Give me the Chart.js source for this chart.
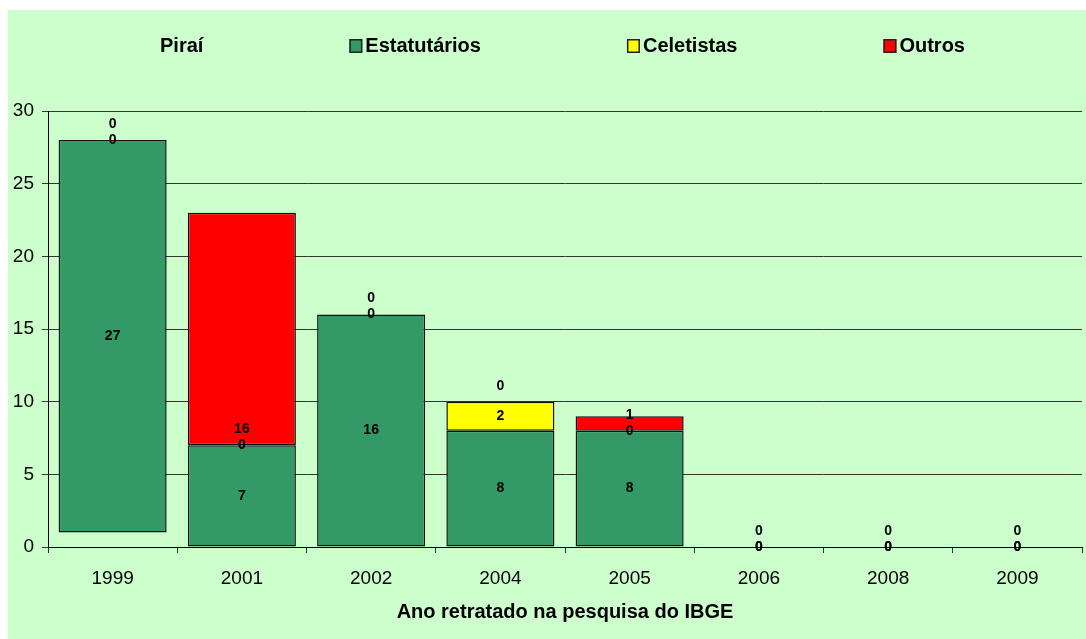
<!DOCTYPE html>
<html><head><meta charset="utf-8">
<script src="https://cdn.jsdelivr.net/npm/chart.js@4"></script>
<style>html,body{margin:0;padding:0;background:#fff;}canvas{display:block;}</style>
</head><body>
<canvas id="c" width="1086" height="639"></canvas>
<script>
const categories = ['1999','2001','2002','2004','2005','2006','2008','2009'];
const pirai = [1,0,0,0,0,0,0,0];
const estatutarios = [27,7,16,8,8,0,0,0];
const celetistas = [0,0,0,2,0,0,0,0];
const outros = [0,16,0,0,1,0,0,0];
const seriesNames = ['Piraí','Estatutários','Celetistas','Outros'];
const xTitle = 'Ano retratado na pesquisa do IBGE';

const FAMILY = '"Liberation Sans", Arial, Helvetica, sans-serif';

const bgPlugin = {
  id:'bg',
  beforeDraw(chart){
    const ctx = chart.ctx;
    ctx.save();
    ctx.fillStyle = '#ffffff';
    ctx.fillRect(0,0,chart.width,chart.height);
    ctx.fillStyle = '#CCFFCC';
    ctx.fillRect(8,10,chart.width-8,chart.height-10);
    ctx.restore();
  }
};

const valueLabels = {
  id:'valueLabels',
  afterDatasetsDraw(chart){
    const ctx = chart.ctx;
    ctx.save();
    ctx.font = 'bold 14px ' + FAMILY;
    ctx.fillStyle = '#000';
    ctx.textAlign = 'center';
    ctx.textBaseline = 'middle';
    chart.data.datasets.forEach((ds, di) => {
      if (!ds.showValues) return;
      const meta = chart.getDatasetMeta(di);
      meta.data.forEach((bar, i) => {
        const v = ds.data[i];
        const y = ds.labelMode === 'base' ? bar.base - 16 : (bar.y + bar.base) / 2;
        ctx.fillText(String(v), bar.x, y);
      });
    });
    ctx.restore();
  }
};

const legendPlugin = {
  id:'customLegend',
  afterDraw(chart){
    const ctx = chart.ctx;
    ctx.save();
    ctx.font = 'bold 20px ' + FAMILY;
    ctx.textBaseline = 'middle';
    ctx.textAlign = 'left';
    const box = 13, gapBoxText = 3, gap = 146, cy = 46;
    let x = 144;
    chart.data.datasets.forEach(ds => {
      const tw = ctx.measureText(ds.label).width;
      if (ds.borderWidth) {
        ctx.fillStyle = ds.backgroundColor;
        ctx.fillRect(x, cy - 7, box, 14);
        ctx.strokeStyle = '#222';
        ctx.lineWidth = 1.5;
        ctx.strokeRect(x + 0.75, cy - 7 + 0.75, box - 1.5, 14 - 1.5);
      }
      ctx.fillStyle = '#000';
      ctx.fillText(ds.label, x + box + gapBoxText, cy);
      x += box + gapBoxText + tw + gap;
    });
    ctx.restore();
  }
};

new Chart(document.getElementById('c'), {
  type:'bar',
  data:{
    labels: categories,
    datasets:[
      {label:seriesNames[0], data:pirai, backgroundColor:'rgba(0,0,0,0)', borderWidth:0, showValues:false},
      {label:seriesNames[1], data:estatutarios, backgroundColor:'#339966', borderColor:'#111', borderWidth:1.5, borderSkipped:false, showValues:true, labelMode:'center'},
      {label:seriesNames[2], data:celetistas, backgroundColor:'#FFFF00', borderColor:'#111', borderWidth:1.5, borderSkipped:false, showValues:true, labelMode:'center'},
      {label:seriesNames[3], data:outros, backgroundColor:'#FF0000', borderColor:'#111', borderWidth:1.5, borderSkipped:false, showValues:true, labelMode:'base'}
    ]
  },
  options:{
    responsive:false,
    animation:false,
    layout:{padding:{left:8, right:4, top:111, bottom:0}},
    datasets:{bar:{categoryPercentage:1, barPercentage:0.836}},
    plugins:{legend:{display:false}, tooltip:{enabled:false}},
    scales:{
      x:{
        stacked:true,
        grid:{display:true, drawOnChartArea:false, drawTicks:true, tickLength:6, color:'#333', offset:true},
        border:{color:'#000', width:1},
        ticks:{color:'#000', font:{size:19, family:FAMILY}, padding:14},
        title:{display:true, text:xTitle, color:'#000', font:{size:20, weight:'bold', family:FAMILY}, padding:{top:0, bottom:15}},
        afterFit(s){ s.height = 92; }
      },
      y:{
        stacked:true, min:0, max:30,
        ticks:{stepSize:5, color:'#000', font:{size:19, family:FAMILY}, padding:8},
        grid:{color:'#333', tickLength:6},
        border:{color:'#000', width:1},
        afterFit(s){ s.width = 40; }
      }
    }
  },
  plugins:[bgPlugin, valueLabels, legendPlugin]
});
</script>
</body></html>
